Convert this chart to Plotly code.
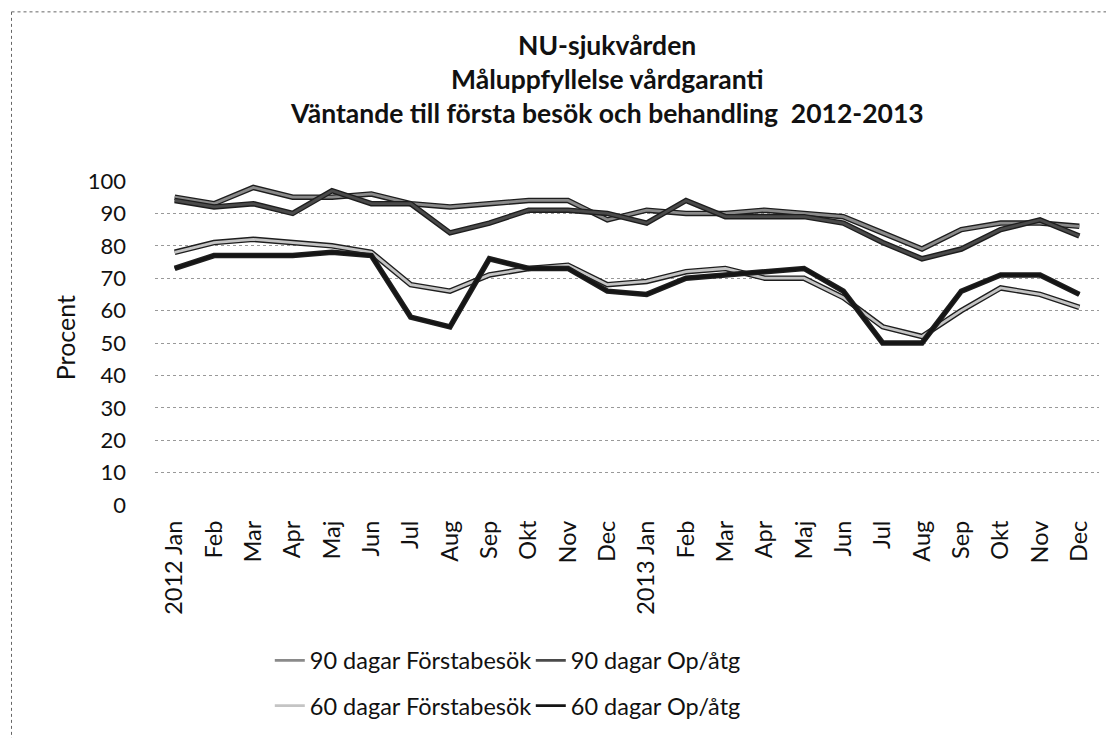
import plotly.graph_objects as go

months = ["2012 Jan", "Feb", "Mar", "Apr", "Maj", "Jun", "Jul", "Aug", "Sep", "Okt", "Nov", "Dec",
          "2013 Jan", "Feb", "Mar", "Apr", "Maj", "Jun", "Jul", "Aug", "Sep", "Okt", "Nov", "Dec"]

dagar90_forsta = [95, 93, 98, 95, 95, 96, 93, 92, 93, 94, 94, 88,
                  91, 90, 90, 91, 90, 89, 84, 79, 85, 87, 87, 86]
dagar90_op = [94, 92, 93, 90, 97, 93, 93, 84, 87, 91, 91, 90,
              87, 94, 89, 89, 89, 87, 81, 76, 79, 85, 88, 83]
dagar60_forsta = [78, 81, 82, 81, 80, 78, 68, 66, 71, 73, 74, 68,
                  69, 72, 73, 70, 70, 64, 55, 52, 60, 67, 65, 61]
dagar60_op = [73, 77, 77, 77, 78, 77, 58, 55, 76, 73, 73, 66,
              65, 70, 71, 72, 73, 66, 50, 50, 66, 71, 71, 65]

series = [
    ("90 dagar Förstabesök", dagar90_forsta, "#8a8a8a", "legend"),
    ("90 dagar Op/åtg", dagar90_op, "#4a4a4a", "legend"),
    ("60 dagar Förstabesök", dagar60_forsta, "#c4c4c4", "legend2"),
    ("60 dagar Op/åtg", dagar60_op, "#151515", "legend2"),
]

FONT = "Lato, 'Noto Sans', sans-serif"
xs = list(range(len(months)))

fig = go.Figure()
for name, vals, col, lg in series:
    fig.add_trace(go.Scatter(x=xs, y=vals, mode="lines", showlegend=False,
                             line=dict(color="#1e1e1e", width=5.5), hoverinfo="skip"))
    fig.add_trace(go.Scatter(x=xs, y=vals, mode="lines", name=name, legend=lg,
                             line=dict(color=col, width=2.8)))

# page body has an 8px margin: plot area offsets compensate for it
fig.update_layout(
    width=1114, height=738,
    paper_bgcolor="white", plot_bgcolor="white",
    margin=dict(l=147, r=23, t=173, b=241, autoexpand=False),
    font=dict(family=FONT, color="#111", size=18),
    showlegend=True,
    legend=dict(orientation="h", x=0.1216, xanchor="left", y=-0.48, yanchor="middle",
                entrywidth=216, font=dict(size=23.5, family=FONT), bgcolor="rgba(0,0,0,0)"),
    legend2=dict(orientation="h", x=0.1216, xanchor="left", y=-0.62, yanchor="middle",
                 entrywidth=216, font=dict(size=23.5, family=FONT), bgcolor="rgba(0,0,0,0)"),
)

fig.update_xaxes(
    tickmode="array", tickvals=xs, ticktext=months, tickangle=-90,
    range=[-0.5, len(months) - 0.5], showgrid=False, zeroline=False, showline=False,
    ticks="", tickfont=dict(size=23.5, family=FONT), ticklabelstandoff=10,
)
fig.update_yaxes(
    range=[0, 100], dtick=10, showgrid=True, gridcolor="#999", griddash="dot", gridwidth=1,
    zeroline=False, showline=False, ticks="", tickfont=dict(size=22, family=FONT),
    ticklabelstandoff=28,
)

fig.add_annotation(text="Procent", xref="paper", yref="paper", x=-0.0953, y=0.515,
                   xanchor="center", yanchor="middle", textangle=-90, showarrow=False,
                   font=dict(size=25, family=FONT, color="#111"))

titles = ["NU-sjukvården", "Måluppfyllelse vårdgaranti",
          "Väntande till första besök och behandling  2012-2013"]
for i, t in enumerate(titles):
    fig.add_annotation(text="<b>%s</b>" % t, xref="paper", yref="paper",
                       x=0.479, y=1.42 - i * 0.105, xanchor="center", yanchor="middle",
                       showarrow=False, font=dict(size=26.5, family=FONT, color="#111"))

# dotted frame around the chart area (scan border)
fig.add_shape(type="line", xref="paper", yref="paper", x0=-0.152, x1=1.03, y0=1.522, y1=1.522,
              line=dict(color="#666", width=1, dash="dot"))
fig.add_shape(type="line", xref="paper", yref="paper", x0=-0.152, x1=-0.152, y0=1.522, y1=-0.75,
              line=dict(color="#666", width=1, dash="dot"))

fig.write_html("out.html")
